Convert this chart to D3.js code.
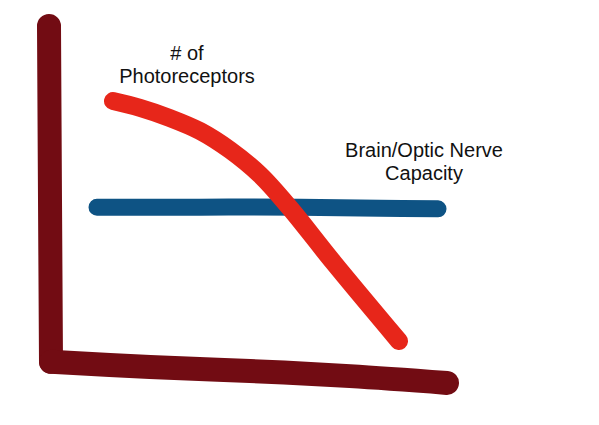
<!DOCTYPE html>
<html>
<head>
<meta charset="utf-8">
<script src="https://cdn.jsdelivr.net/npm/d3@7"></script>
<style>
  html, body { margin: 0; padding: 0; background: #ffffff; }
  svg { display: block; }
  text { font-family: Helvetica, Arial, "Liberation Sans", sans-serif; fill: #111; }
</style>
</head>
<body>
<svg id="chart" width="599" height="425"></svg>
<script>
// Hand-drawn strokes, in data units (x: 0..100, y: 0..100)
const yAxisStroke = [[-0.25, 101.2], [0, 50], [0.25, 2.4]];
const xAxisStroke = [[0.25, 2.4], [25, 0.9], [50, -0.3], [75, -1.8], [99.25, -3.8]];
const photoreceptors = [
  [15.75, 79.1], [22.5, 77.1], [30, 74.1], [37.5, 70.3], [45, 64.7],
  [52.5, 57.4], [60, 47.6], [70.75, 31.8], [87.25, 8.5]
];
const capacity = [[11.75, 47.9], [37.5, 47.9], [62.5, 47.9], [82.5, 47.6], [97, 47.4]];
const labelPhoto = ["# of", "Photoreceptors"];
const labelCapacity = ["Brain/Optic Nerve", "Capacity"];

const svg = d3.select("#chart");
const x = d3.scaleLinear().domain([0, 100]).range([50, 450]);
const y = d3.scaleLinear().domain([0, 100]).range([370, 30]);

const line = d3.line().x(d => x(d[0])).y(d => y(d[1])).curve(d3.curveCatmullRom.alpha(0.5));

function stroke(data, color, width) {
  svg.append("path")
    .datum(data)
    .attr("d", line)
    .attr("fill", "none")
    .attr("stroke", color)
    .attr("stroke-width", width)
    .attr("stroke-linecap", "round")
    .attr("stroke-linejoin", "round");
}

stroke(capacity, "#0e5384", 17);
stroke(photoreceptors, "#e7261a", 18);
stroke(yAxisStroke, "#720c13", 24);
stroke(xAxisStroke, "#720c13", 24);

function label(lines, cx, baseY) {
  const t = svg.append("text")
    .attr("text-anchor", "middle")
    .attr("font-size", 20);
  lines.forEach((s, i) => {
    t.append("tspan").attr("x", cx).attr("y", baseY + i * 23).text(s);
  });
}
label(labelPhoto, x(34.25), y(91.2));
label(labelCapacity, x(93.5), y(62.6));
</script>
</body>
</html>
